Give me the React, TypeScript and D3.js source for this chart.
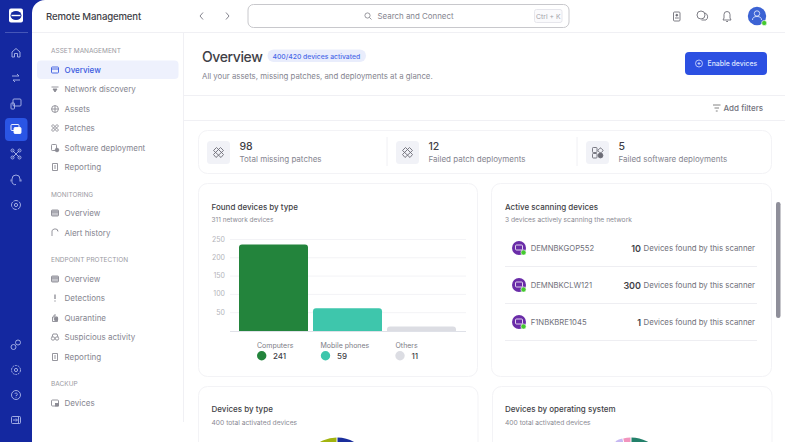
import React from "react";
import * as d3 from "d3";

const FONT = "Inter, 'Noto Sans', sans-serif";

const barCategories = ["Computers", "Mobile phones", "Others"];
const barHeights = [236, 62, 12];
const legendValues = [241, 59, 11];
const barColors = ["#23843c", "#3ec6ac", "#dcdde3"];
const yTicks = [50, 100, 150, 200, 250];

const scanners = ["DEMNBKGOP552", "DEMNBKCLW121", "F1NBKBRE1045"];
const scannerCounts = [10, 300, 1];

const statValues = [98, 12, 5];
const statLabels = ["Total missing patches", "Failed patch deployments", "Failed software deployments"];

const navGroups = ["ASSET MANAGEMENT", "MONITORING", "ENDPOINT PROTECTION", "BACKUP"];
const navGroupY = [51, 195, 260, 384];
const navItems = ["Overview", "Network discovery", "Assets", "Patches", "Software deployment", "Reporting", "Overview", "Alert history", "Overview", "Detections", "Quarantine", "Suspicious activity", "Reporting", "Devices"];
const navItemY = [70, 89, 109, 128, 148, 167, 213, 233, 279, 298, 318, 337, 357, 403];

const railY = [53, 78, 104, 129, 154, 180, 205, 345, 370, 395, 420];

const typePie = [40, 20, 15, 25];
const typeColors = ["#1a2e9c", "#2f9e6e", "#f2c230", "#a2b40f"];
const osPie = [30, 35, 28, 3.5, 3.5];
const osColors = ["#23806a", "#4060d8", "#f2c230", "#c6b8f2", "#f294bd"];

const INK = "#3f3f47", MUTE = "#8a8a93", LINE = "#f0f0f4", NAVICON = "#8a8a93";

function T({ x, y, s = 9, c = MUTE, w = 400, a = "start", ls = 0, children }: any) {
  return <text x={x} y={y} fontSize={s} fill={c} fontWeight={w} textAnchor={a} letterSpacing={ls} dominantBaseline="central" fontFamily={FONT}>{children}</text>;
}

function RailIcon({ x, y, i }: any) {
  const c = "#aeb8ea";
  return (
    <g transform={`translate(${x},${y})`} fill="none" stroke={i === 3 ? "#fff" : c} strokeWidth={0.9}>
      {i === 0 && <path d="M-4,4 V-1 L0,-4.5 L4,-1 V4 H1.5 V0.5 H-1.5 V4 Z" />}
      {i === 1 && <path d="M-4,-2 H3 L1,-4 M4,2 H-3 L-1,4" />}
      {i === 2 && <><rect x={-3} y={-5} width={8} height={7} rx={1} /><rect x={-5} y={-1} width={3.5} height={6} rx={0.8} /></>}
      {i === 3 && <><rect x={-5} y={-4.5} width={8} height={6} rx={1} /><rect x={-2} y={-1.5} width={7} height={6} rx={1} fill="#fff" /></>}
      {i === 4 && <path d="M-3.5,-3.5 L3.5,3.5 M3.5,-3.5 L-3.5,3.5 M-5,-3.5 a1.5,1.5 0 1,0 3,0 a1.5,1.5 0 1,0 -3,0 M2,3.5 a1.5,1.5 0 1,0 3,0 a1.5,1.5 0 1,0 -3,0 M2,-3.5 a1.5,1.5 0 1,0 3,0 a1.5,1.5 0 1,0 -3,0 M-5,3.5 a1.5,1.5 0 1,0 3,0 a1.5,1.5 0 1,0 -3,0" />}
      {i === 5 && <path d="M-4,1.5 V-1 A4,4 0 0 1 4,-1 V1.5 M-4,1.5 A3,3 0 0 0 0,4.5 M-5,-0.5 V1.5 M5,-0.5 V1.5" />}
      {i === 6 && <><circle r={4.5} strokeDasharray="5 1" /><circle r={1.6} /></>}
      {i === 7 && <><circle cx={2} cy={-2.5} r={2.5} /><circle cx={-2.5} cy={2} r={2.5} /></>}
      {i === 8 && <><circle r={4.5} strokeDasharray="2 0.8" /><circle r={1.6} /></>}
      {i === 9 && <><circle r={4.5} /><path d="M-1.2,-1.2 A1.3,1.3 0 1 1 0,0.6 V1.2 M0,2.2 V2.8" /></>}
      {i === 10 && <><rect x={-4.5} y={-3.5} width={9} height={7} rx={1} /><path d="M-3,0 H1 M0,-1.5 L1.5,0 L0,1.5 M2.5,-3 V3" /></>}
    </g>
  );
}

function NavIcon({ x, y, i }: any) {
  const c = i === 0 ? "#3a5be0" : NAVICON;
  return (
    <g transform={`translate(${x},${y})`} fill="none" stroke={c} strokeWidth={0.9}>
      {[0, 6, 8].includes(i) && <><rect x={-3.5} y={-3} width={7} height={6} rx={0.8} fill={i === 0 ? "none" : "#c4c4ca"} /><path d="M-3.5,-1 H3.5" /></>}
      {i === 1 && <path d="M-3.5,-2 H3.5 M-2,0 H2 L0,3 Z" fill={c} />}
      {i === 2 && <><circle r={3.4} /><path d="M-3.4,0 H3.4 M0,-3.4 V3.4" /></>}
      {i === 3 && <path d="M-2,-3.5 L3.5,2 L2,3.5 L-3.5,-2 Z M2,-3.5 L-3.5,2 L-2,3.5 L3.5,-2 Z" />}
      {i === 4 && <><rect x={-3.5} y={-3.5} width={5} height={6} rx={0.8} /><circle cx={2} cy={2} r={1.8} fill={c} /></>}
      {(i === 5 || i === 12) && <><path d="M-2.5,-3.5 H2.5 V3.5 H-2.5 Z M-1,-1 H1 M-1,1 H1" /></>}
      {i === 7 && <path d="M-3,3 V0 A3,3 0 0 1 3,-2 M2,-3.5 L3,-1.5" />}
      {i === 9 && <path d="M0,-3.5 V1 M0,2.5 V3.5" strokeWidth={1.3} />}
      {i === 10 && <><path d="M-2.5,-1 H2.5 V3.5 H-2.5 Z M-1,-1 V-3 H1" /><circle cx={1} cy={1} r={1.8} fill={c} /></>}
      {i === 11 && <><circle cx={-2} cy={1.5} r={1.7} /><circle cx={2} cy={1.5} r={1.7} /><path d="M-3,0 L-2,-3 H2 L3,0" /></>}
      {i === 13 && <><rect x={-3.5} y={-3} width={7} height={6} rx={1} /><rect x={0.5} y={0.5} width={3} height={2.5} fill={c} /></>}
    </g>
  );
}

function PatchIcon({ x, y }: any) {
  return (
    <g transform={`translate(${x},${y})`} fill="none" stroke="#6c6c76" strokeWidth={0.9}>
      <path d="M-2,-5 L5,2 L2.5,5 L-5,-2 Z M2,-5 L-5,2 L-2.5,5 L5,-2 Z" />
    </g>
  );
}

function SoftwareIcon({ x, y }: any) {
  return (
    <g transform={`translate(${x},${y})`} fill="none" stroke="#6c6c76" strokeWidth={0.9}>
      <rect x={-5} y={-5} width={4.5} height={5} rx={0.8} />
      <rect x={-5} y={1} width={4.5} height={4.5} rx={0.8} />
      <rect x={1} y={-4} width={4} height={4} rx={0.8} transform="rotate(45 3 -2)" />
      <circle cx={3} cy={3} r={2.4} fill="#6c6c76" />
    </g>
  );
}

function Donut({ cx, cy, r, inner, data, colors }: any) {
  const arcs = d3.pie<number>().sort(null).padAngle(0.025)(data);
  const arc = d3.arc<d3.PieArcDatum<number>>().innerRadius(inner).outerRadius(r);
  return (
    <g transform={`translate(${cx},${cy})`}>
      {arcs.map((a: any, i: number) => <path key={i} d={arc(a) as string} fill={colors[i]} />)}
    </g>
  );
}

function Card({ x, y, w, h }: any) {
  return <rect x={x + 0.5} y={y + 0.5} width={w} height={h} rx={9} fill="#fff" stroke="#f3f3f6" />;
}

export default function App() {
  const x = d3.scaleBand<string>().domain(barCategories).range([239, 456]).paddingInner(5 / 74);
  const y = d3.scaleLinear().domain([0, 250]).range([331, 239.5]);
  const legendDotX = [261.7, 325.5, 400];
  const legendLabelX = [257, 320.5, 395.5];
  const legendNumX = [273, 337, 411.5];
  const statX = [207, 396, 586];
  const rowY = [248, 285, 322];

  return (
    <>
      <style>{`html,body{margin:0;padding:0;background:#fff;overflow:hidden}`}</style>
      <svg width={785} height={442} style={{ display: "block" }}>
        <rect width={785} height={442} fill="#fff" />
        {/* left rail */}
        <path d="M0,0 H45 A13,13 0 0 0 32,13 V442 H0 Z" fill="#1428a0" />
        <rect x={9} y={8.5} width={14} height={14} rx={2} fill="#fff" />
        <ellipse cx={16} cy={15.5} rx={5.5} ry={4.5} fill="#1428a0" />
        <path d="M11.5,15.5 H20.5" stroke="#fff" strokeWidth={1.4} />
        <line x1={5} x2={28} y1={32.5} y2={32.5} stroke="#4556b8" />
        <rect x={5} y={118} width={22.5} height={23} rx={4} fill="#2a55e5" />
        {railY.map((ry, i) => <RailIcon key={i} x={16} y={ry} i={i} />)}

        {/* header */}
        <T x={46} y={16} s={9.6} c={INK} w={500} ls={-0.15}>Remote Management</T>
        <line x1={32} x2={785} y1={32.5} y2={32.5} stroke={LINE} />
        <path d="M203,12.5 L200,16 L203,19.5 M226,12.5 L229,16 L226,19.5" fill="none" stroke="#85858f" />
        <rect x={248} y={4.5} width={321} height={23} rx={5.5} fill="#fff" stroke="#c8c8cc" />
        <g fill="none" stroke="#808088" strokeWidth={0.8}>
          <circle cx={367.5} cy={15.5} r={2.6} />
          <path d="M369.5,17.5 L371.5,19.5" />
        </g>
        <T x={377.5} y={16} s={7.9} c="#85858f">Search and Connect</T>
        <rect x={534.5} y={9.5} width={27.5} height={13} rx={2} fill="#fafafc" stroke="#e6e6ec" />
        <T x={548.3} y={16} s={6.8} c="#a0a0a8" a="middle">Ctrl + K</T>
        <g fill="none" stroke="#6f6f78" strokeWidth={0.9}>
          <rect x={673.5} y={12} width={6.5} height={9} rx={1} />
          <circle cx={676.8} cy={15.2} r={0.9} fill="#6f6f78" />
          <path d="M675,18 H678.8" />
          <circle cx={701} cy={15} r={4} />
          <path d="M705,13 A4,4 0 0 1 706,20 H701.5" />
          <path d="M723,20 H731 L730,18 V14.5 A3,3 0 0 0 724,14.5 V18 Z M726.2,21.5 H728" />
        </g>
        <circle cx={757} cy={16} r={9.2} fill="#3c63d4" />
        <g fill="none" stroke="#dfe5fa" strokeWidth={0.9}>
          <circle cx={757} cy={13.5} r={2.7} />
          <path d="M752.5,20 A4.5,3.5 0 0 1 761.5,20" />
        </g>
        <circle cx={764.2} cy={23} r={2.6} fill="#44c92f" stroke="#fff" strokeWidth={0.6} />

        {/* nav */}
        <line x1={183.5} x2={183.5} y1={33} y2={422} stroke={LINE} />
        <rect x={37} y={60.5} width={141.5} height={18.5} rx={4} fill="#eef1fd" />
        {navGroups.map((g, i) => <T key={i} x={51} y={navGroupY[i]} s={6.5} c="#9a9aa2">{g}</T>)}
        {navItems.map((t, i) => (
          <g key={i}>
            <NavIcon x={55} y={navItemY[i]} i={i} />
            <T x={64.5} y={navItemY[i]} s={8} c={i === 0 ? "#3a5be0" : "#85858f"} w={i === 0 ? 500 : 400}>{t}</T>
          </g>
        ))}

        {/* page head */}
        <T x={202} y={56} s={14} c={INK} w={500} ls={-0.4}>Overview</T>
        <rect x={267.5} y={49.5} width={98.5} height={12.5} rx={6.2} fill="#e9edfc" />
        <T x={272.5} y={56} s={6.8} c="#4a6ae8" w={500}>400/420 devices activated</T>
        <T x={202} y={75.5} s={7.8} c="#85858f">All your assets, missing patches, and deployments at a glance.</T>
        <rect x={685} y={52} width={82} height={23} rx={4} fill="#2c50e2" />
        <g fill="none" stroke="#d8e0ff" strokeWidth={0.8}>
          <circle cx={699} cy={63.5} r={3.5} />
          <path d="M697.5,63.5 H700.5 M699,62 V65" />
        </g>
        <T x={707.5} y={63.5} s={6.9} c="#dfe6ff" w={500}>Enable devices</T>
        <line x1={184} x2={785} y1={95.5} y2={95.5} stroke={LINE} />
        <path d="M713,105 H720.5 M714.5,108 H719 M715.8,111 H717.7" stroke="#777" strokeWidth={0.9} />
        <T x={723.5} y={108} s={8} c="#70707a" w={500}>Add filters</T>
        <line x1={184} x2={785} y1={120.5} y2={120.5} stroke={LINE} />

        {/* stats */}
        <Card x={198} y={130} w={573} h={43} />
        {statValues.map((v, i) => (
          <g key={i}>
            <rect x={statX[i]} y={141} width={23} height={23} rx={3.5} fill="#f1f2f7" />
            {i < 2 ? <PatchIcon x={statX[i] + 11.5} y={152.5} /> : <SoftwareIcon x={statX[i] + 11.5} y={152.5} />}
            <T x={statX[i] + 32.5} y={146.5} s={10.5} c={INK} w={500}>{v}</T>
            <T x={statX[i] + 32.5} y={159.3} s={8} c="#85858f">{statLabels[i]}</T>
          </g>
        ))}
        <line x1={387} x2={387} y1={137} y2={166} stroke={LINE} />
        <line x1={577} x2={577} y1={137} y2={166} stroke={LINE} />

        {/* found devices */}
        <Card x={198} y={183} w={279} h={193} />
        <T x={211.5} y={206.5} s={8} c={INK} w={500}>Found devices by type</T>
        <T x={211.5} y={220} s={6.5} c="#8a8a93">311 network devices</T>
        {yTicks.map((t) => (
          <g key={t}>
            <line x1={230} x2={466} y1={y(t)} y2={y(t)} stroke="#f3f3f6" />
            <T x={225} y={y(t) - 0.5} s={7} c="#b4b4ba" a="end">{t}</T>
          </g>
        ))}
        {barCategories.map((c, i) => {
          const x0 = x(c) as number, w = x.bandwidth(), top = y(barHeights[i]), r = 3;
          return <path key={c} d={`M${x0},331 V${top + r} Q${x0},${top} ${x0 + r},${top} H${x0 + w - r} Q${x0 + w},${top} ${x0 + w},${top + r} V331 Z`} fill={barColors[i]} />;
        })}
        <line x1={230} x2={466} y1={331.5} y2={331.5} stroke="#dfe1e8" />
        {barCategories.map((c, i) => (
          <g key={c}>
            <T x={legendLabelX[i]} y={345.5} s={7} c="#7c7c86">{c}</T>
            <circle cx={legendDotX[i]} cy={355.8} r={4.7} fill={barColors[i]} />
            <T x={legendNumX[i]} y={356} s={8} c={INK} w={500}>{legendValues[i]}</T>
          </g>
        ))}

        {/* scanners */}
        <Card x={491} y={183} w={280} h={193} />
        <T x={505} y={206.5} s={8} c={INK} w={500}>Active scanning devices</T>
        <T x={505} y={220} s={6.7} c="#8a8a93">3 devices actively scanning the network</T>
        {scanners.map((s, i) => (
          <g key={s}>
            <circle cx={519} cy={rowY[i]} r={7} fill="#6a2ca8" />
            <rect x={515.5} y={rowY[i] - 3} width={7} height={5} rx={1} fill="none" stroke="#fff" strokeWidth={0.8} />
            <circle cx={523.5} cy={rowY[i] + 4.5} r={2.6} fill="#44c92f" stroke="#fff" strokeWidth={0.6} />
            <T x={530.7} y={rowY[i]} s={7.7} c="#70707a">{s}</T>
            <T x={641} y={rowY[i]} s={9} c={INK} w={600} a="end">{scannerCounts[i]}</T>
            <T x={755} y={rowY[i]} s={7.8} c="#70707a" a="end">Devices found by this scanner</T>
            <line x1={505} x2={757} y1={rowY[i] + 18.5} y2={rowY[i] + 18.5} stroke="#eeeef2" />
          </g>
        ))}
        <rect x={776} y={202} width={4.5} height={116} rx={2.2} fill="#8f8f9a" />

        {/* lower cards */}
        <Card x={198} y={386} w={279.5} h={70} />
        <T x={211.5} y={409} s={8} c={INK} w={500}>Devices by type</T>
        <T x={211.5} y={422.5} s={6.7} c="#8a8a93">400 total activated devices</T>
        <Donut cx={337} cy={472} r={34.5} inner={18} data={typePie} colors={typeColors} />
        <Card x={492} y={386} w={279.5} h={70} />
        <T x={505} y={409} s={8} c={INK} w={500}>Devices by operating system</T>
        <T x={505} y={422.5} s={6.7} c="#8a8a93">400 total activated devices</T>
        <Donut cx={631} cy={472} r={34.5} inner={18} data={osPie} colors={osColors} />
      </svg>
    </>
  );
}
